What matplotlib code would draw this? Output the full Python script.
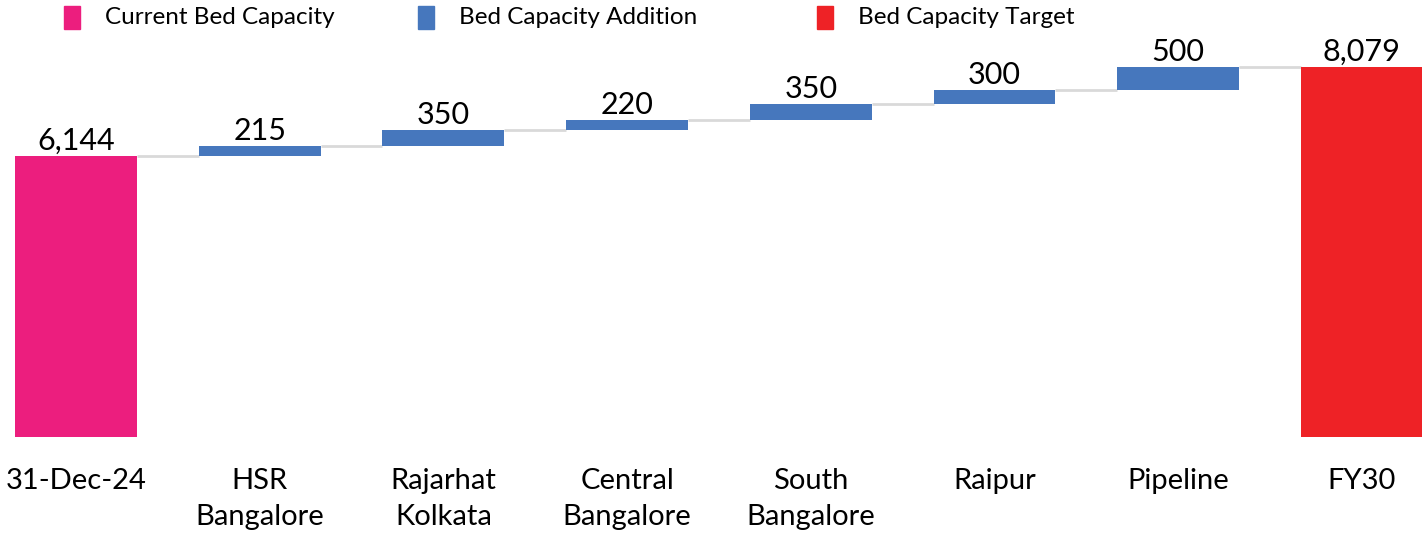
import matplotlib
matplotlib.use("Agg")
import matplotlib.pyplot as plt
from matplotlib.patches import Rectangle

plt.rcParams['font.family'] = ['Lato', 'DejaVu Sans']

categories = ["31-Dec-24", "HSR\nBangalore", "Rajarhat\nKolkata", "Central\nBangalore",
              "South\nBangalore", "Raipur", "Pipeline", "FY30"]
start_value = 6144
additions = [215, 350, 220, 350, 300, 500]
target_value = 8079
value_labels = ["6,144", "215", "350", "220", "350", "300", "500", "8,079"]
legend_labels = ["Current Bed Capacity", "Bed Capacity Addition", "Bed Capacity Target"]

PINK = "#EC1E7E"
BLUE = "#4677BD"
RED = "#EE2226"
GRAY = "#D9D9D9"

W, H = 1422, 536
fig = plt.figure(figsize=(W / 100, H / 100), dpi=100)
ax = fig.add_axes([0, 1 - 437 / H, 1, 437 / H])

bw = 0.664
bottoms = [0]
heights = [start_value]
colors = [PINK]
level = start_value
for a in additions:
    bottoms.append(level)
    heights.append(a)
    colors.append(BLUE)
    level += a
bottoms.append(0)
heights.append(target_value)
colors.append(RED)

xs = list(range(len(categories)))
ax.bar(xs, heights, bottom=bottoms, width=bw, color=colors, zorder=3)

tops = [b + h for b, h in zip(bottoms, heights)]
for i in range(len(xs) - 1):
    ax.plot([xs[i] + bw / 2, xs[i + 1] - bw / 2], [tops[i], tops[i]],
            color=GRAY, lw=2, zorder=2, solid_capstyle='butt')

for x, t, lab in zip(xs, tops, value_labels):
    ax.annotate(lab, (x, t), xytext=(0, 4.5), textcoords='offset points',
                ha='center', va='baseline', fontsize=22, color='black')

ax.set_xlim(-76 / 183.7, (W - 76) / 183.7)
ax.set_ylim(0, 437 * 21.85)
ax.set_xticks(xs)
ax.set_xticklabels(categories, fontsize=21, linespacing=1.5)
ax.tick_params(axis='x', length=0, pad=22)
ax.set_yticks([])
for s in ax.spines.values():
    s.set_visible(False)

leg_x = [64, 418, 817]
for lx, lab, c in zip(leg_x, legend_labels, [PINK, BLUE, RED]):
    fig.patches.append(Rectangle((lx / W, 1 - 29 / H), 16 / W, 23 / H,
                                 transform=fig.transFigure, color=c))
    fig.text((lx + 41) / W, 1 - 18 / H, lab, fontsize=17.5, va='center', ha='left')

fig.savefig("out.png", dpi=100)
